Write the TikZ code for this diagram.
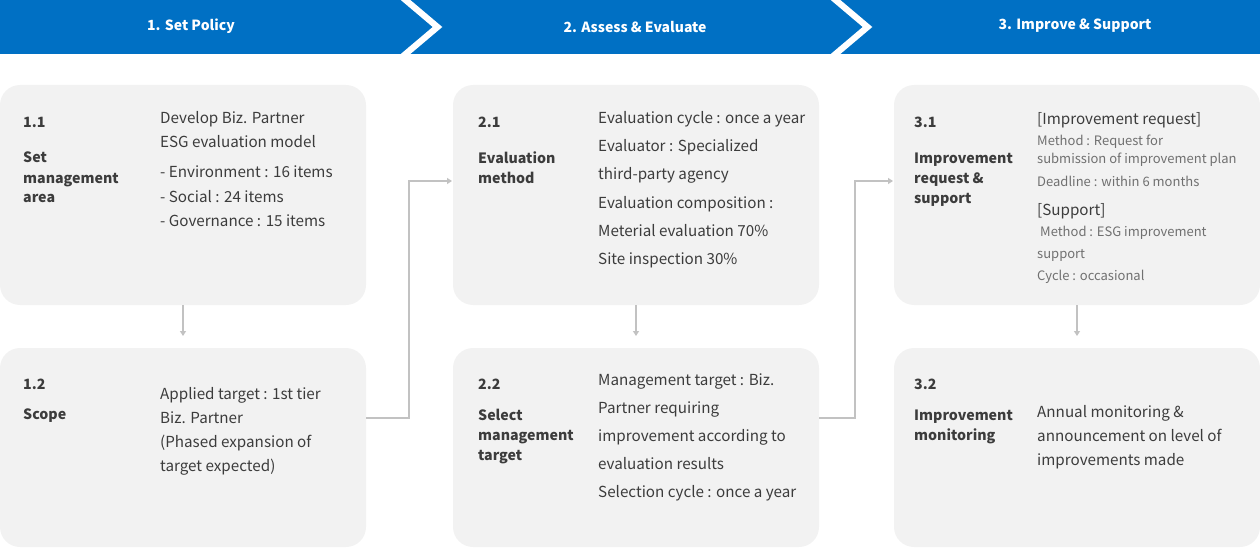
\documentclass[tikz,border=0pt]{standalone}
\usepackage{fontspec}
\setmainfont{Noto Sans CJK KR}
\usetikzlibrary{arrows.meta,positioning}
\definecolor{band}{HTML}{0070C4}
\definecolor{cardfill}{HTML}{F2F2F2}
\definecolor{ink}{HTML}{3C3C3C}
\definecolor{soft}{HTML}{707070}
\definecolor{wire}{HTML}{C2C2C2}

\begin{document}
\begin{tikzpicture}[
  x=1pt,y=-1pt,
  >={Triangle[length=5pt,width=6pt]},
  card/.style={fill=cardfill,rounded corners=20pt,anchor=north west,
    minimum width=366pt,inner sep=0pt,outer sep=0pt},
  phase/.style={text=white,font=\fontsize{14}{18}\selectfont\bfseries},
  tag/.style={anchor=base west,inner sep=0pt,text=ink,font=\fontsize{14.2}{18}\selectfont\bfseries},
  body/.style={anchor=base west,inner sep=0pt,text=ink,font=\fontsize{15.2}{20}\selectfont},
  small/.style={anchor=base west,inner sep=0pt,text=soft,font=\fontsize{13}{16}\selectfont},
  link/.style={->,draw=wire,line width=1.3pt,shorten >=1pt}
]
\useasboundingbox (0,0) rectangle (1260,548);

% phase band
\fill[band] (0,0) rectangle (1260,54);
\draw[white,line width=6.2pt] (402,-3) -- (437.5,27) -- (402,57);
\draw[white,line width=6.2pt] (832,-3) -- (867.5,27) -- (832,57);
\node[phase] (ph1) at (191,26) {1. Set Policy};
\node[phase] (ph2) at (635,27) {2. Assess \& Evaluate};
\node[phase] (ph3) at (1075,26) {3. Improve \& Support};

% cards
\node[card,minimum height=220pt] (c11) at (0,85) {};
\node[card,minimum height=199pt] (c12) at (0,348) {};
\node[card,minimum height=220pt] (c21) at (453,85) {};
\node[card,minimum height=199pt] (c22) at (453,348) {};
\node[card,minimum height=220pt] (c31) at (894,85) {};
\node[card,minimum height=199pt] (c32) at (894,348) {};

% 1.1
\node[tag] (n11) at (23,128) {1.1};
\foreach \t [count=\i from 0] in {Set,management,area}
  \node[tag] (h11-\i) at (23,163+20*\i) {\t};
\foreach \t [count=\i from 0] in {Develop Biz. Partner,ESG evaluation model,
    - Environment : 16 items,- Social : 24 items,- Governance : 15 items}
  \node[body] (t11-\i) at (160,{124+24*\i+ifthenelse(\i>1,6,0)}) {\t};

% 1.2
\node[tag] (n12) at (23,389) {1.2};
\node[tag] (h12) at (23,419) {Scope};
\foreach \t [count=\i from 0] in {Applied target : 1st tier,Biz. Partner,
    {(Phased expansion of},{target expected)}}
  \node[body] (t12-\i) at (160,399+24*\i) {\t};

% 2.1
\node[tag] (n21) at (478,128) {2.1};
\foreach \t [count=\i from 0] in {Evaluation,method}
  \node[tag] (h21-\i) at (478,164+20*\i) {\t};
\foreach \t [count=\i from 0] in {Evaluation cycle : once a year,Evaluator : Specialized,
    third-party agency,Evaluation composition :,Meterial evaluation 70\%,Site inspection 30\%}
  \node[body] (t21-\i) at (598,124+28*\i) {\t};

% 2.2
\node[tag] (n22) at (478,389) {2.2};
\foreach \t [count=\i from 0] in {Select,management,target}
  \node[tag] (h22-\i) at (478,420+20*\i) {\t};
\foreach \t [count=\i from 0] in {Management target : Biz.,Partner requiring,
    improvement according to,evaluation results,Selection cycle : once a year}
  \node[body] (t22-\i) at (598,385+28*\i) {\t};

% 3.1
\node[tag] (n31) at (914,128) {3.1};
\foreach \t [count=\i from 0] in {Improvement,request \&,support}
  \node[tag] (h31-\i) at (914,164+20*\i) {\t};
\node[body] (r31) at (1037,125) {[Improvement request]};
\node[small] (m31) at (1037,146) {Method : Request for};
\node[small] (s31) at (1037,164) {submission of improvement plan};
\node[small] (d31) at (1037,186) {Deadline : within 6 months};
\node[body] (u31) at (1037,215) {[Support]};
\node[small] (e31) at (1040,236) {Method : ESG improvement};
\node[small] (p31) at (1037,258) {support};
\node[small] (y31) at (1037,280) {Cycle : occasional};

% 3.2
\node[tag] (n32) at (914,389) {3.2};
\foreach \t [count=\i from 0] in {Improvement,monitoring}
  \node[tag] (h32-\i) at (914,420+20*\i) {\t};
\foreach \t [count=\i from 0] in {Annual monitoring \&,announcement on level of,improvements made}
  \node[body] (t32-\i) at (1037,417+24*\i) {\t};

% connectors
\draw[link] (c11.south) -- ++(0,32);
\draw[link] (c21.south) -- ++(0,32);
\draw[link] (c31.south) -- ++(0,32);
\draw[link] ([yshift=29.5pt]c12.east) -| (409,181) -- ([yshift=14pt]c21.west);
\draw[link] ([yshift=29.5pt]c22.east) -| (855,181) -- ([yshift=14pt]c31.west);
\end{tikzpicture}
\end{document}
